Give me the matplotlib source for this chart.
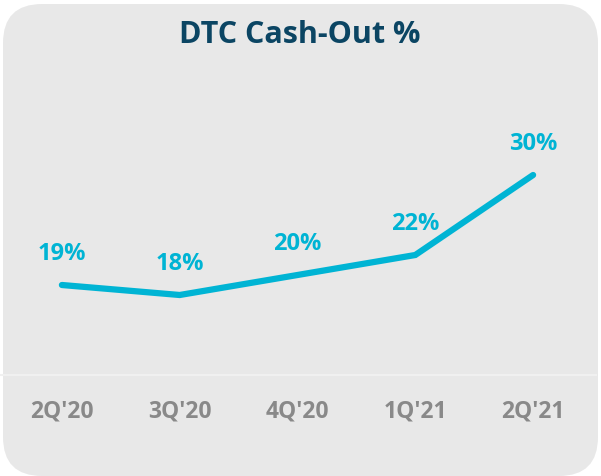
import matplotlib.pyplot as plt
from matplotlib.patches import FancyBboxPatch
from matplotlib.lines import Line2D

quarters = ["2Q'20", "3Q'20", "4Q'20", "1Q'21", "2Q'21"]
cash_out = [19, 18, 20, 22, 30]
labels = ["19%", "18%", "20%", "22%", "30%"]

BG = '#e8e8e8'
LINE = '#00b4d4'
NAVY = '#0b4563'
GRAY = '#898989'

plt.rcParams['font.family'] = ['Open Sans', 'DejaVu Sans']

W, H = 601, 477
fig = plt.figure(figsize=(W / 100, H / 100), dpi=100)
fig.patch.set_facecolor('white')

# rounded card behind everything
card = FancyBboxPatch((3 / W, 0), 595 / W, 472 / H,
                      boxstyle='round,pad=0,rounding_size=0.065',
                      transform=fig.transFigure, facecolor=BG,
                      edgecolor='none', zorder=-2,
                      mutation_aspect=W / H)
fig.patches.append(card)

# faint baseline
fig.lines.append(Line2D([1 / W, 596 / W], [(H - 376) / H] * 2,
                        transform=fig.transFigure, color='#f0f0f0',
                        lw=1.5, zorder=-1))

ax = fig.add_axes([3 / W, (H - 376) / H, 589 / W, 316 / H])
ax.set_zorder(2)
ax.set_facecolor('none')
x = list(range(len(quarters)))
ax.plot(x, cash_out, color=LINE, lw=4.5, solid_capstyle='round',
        solid_joinstyle='miter', zorder=3)
for xi, v, lab in zip(x, cash_out, labels):
    ax.annotate(lab, (xi, v), xytext=(0, 23), textcoords='offset points',
                ha='center', va='center', color=LINE, fontsize=17,
                fontweight='bold')

ax.set_xlim(-0.5, 4.5)
ax.set_ylim(10, 41.6)
ax.set_yticks([])
ax.set_xticks(x)
ax.set_xticklabels(quarters, color=GRAY, fontsize=16.5, fontweight='bold')
ax.tick_params(axis='x', length=0, pad=17)
for s in ax.spines.values():
    s.set_visible(False)

fig.text(300 / W, (H - 35) / H, 'DTC Cash-Out %', ha='center', va='center',
         color=NAVY, fontsize=22, fontweight='bold')

fig.savefig('out.png', dpi=100, facecolor='white')
